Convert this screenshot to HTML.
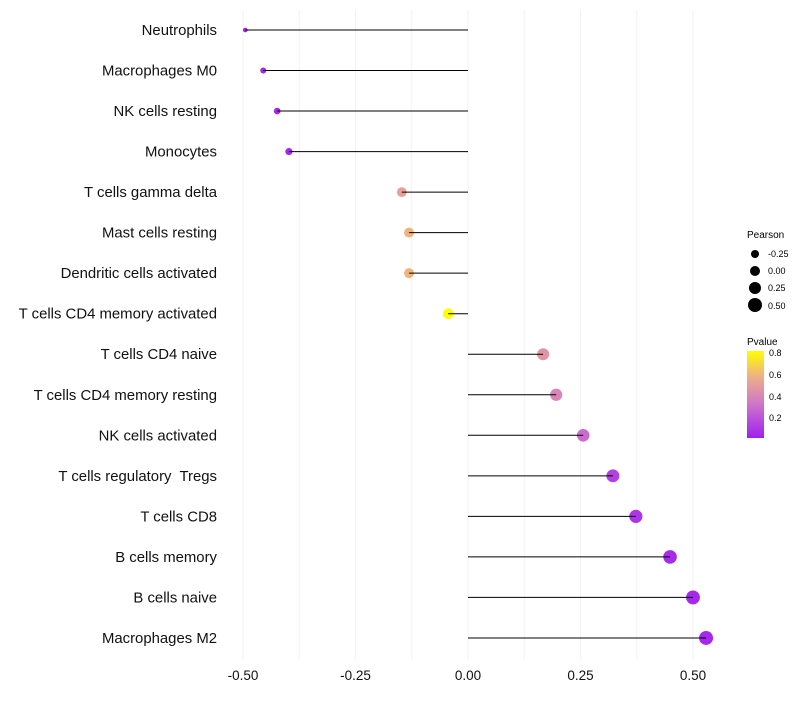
<!DOCTYPE html>
<html><head><meta charset="utf-8"><style>
body{margin:0;background:#fff;font-family:"Liberation Sans",sans-serif}
text{white-space:pre}
</style></head><body>
<svg id="chart" width="800" height="700" xmlns="http://www.w3.org/2000/svg">
<defs><linearGradient id="pg" x1="0" y1="1" x2="0" y2="0">
<stop offset="0" stop-color="#a020f0"/><stop offset="0.4" stop-color="#d077c8"/><stop offset="0.7" stop-color="#eeae88"/><stop offset="1" stop-color="#ffff00"/></linearGradient></defs>
<g id="grid"></g><g id="marks"></g><g id="labels"></g>
<g font-size="9">
<text x="747" y="238" font-size="10">Pearson</text>
<circle cx="755" cy="254" r="4"/><text x="768" y="257">-0.25</text>
<circle cx="755" cy="271" r="5"/><text x="768" y="274">0.00</text>
<circle cx="755" cy="288" r="6"/><text x="768" y="291">0.25</text>
<circle cx="755" cy="305" r="7"/><text x="768" y="309">0.50</text>
</g>
<g font-size="9">
<text x="747" y="345" font-size="10">Pvalue</text>
<rect x="747" y="351" width="17" height="87" fill="url(#pg)"/>
<text x="769" y="356">0.8</text><text x="769" y="378">0.6</text>
<text x="769" y="400">0.4</text><text x="769" y="421">0.2</text>
</g>
</svg>
<script>
const categories=["Neutrophils","Macrophages M0","NK cells resting","Monocytes","T cells gamma delta","Mast cells resting","Dendritic cells activated","T cells CD4 memory activated","T cells CD4 naive","T cells CD4 memory resting","NK cells activated","T cells regulatory  Tregs","T cells CD8","B cells memory","B cells naive","Macrophages M2"];
const pearson=[-0.495,-0.455,-0.424,-0.398,-0.147,-0.131,-0.131,-0.044,0.167,0.196,0.256,0.322,0.373,0.449,0.5,0.529];
const pvalue=[0.03,0.03,0.03,0.03,0.5,0.58,0.58,0.82,0.45,0.38,0.28,0.12,0.08,0.04,0.03,0.03];
const xTicks=[-0.5,-0.25,0,0.25,0.5];
const xTickLabels=["-0.50","-0.25","0.00","0.25","0.50"];
const NS="http://www.w3.org/2000/svg";
const xs=v=>468+v*450;
const ys=i=>30+i*40.53;
const rs=v=>2+5*Math.sqrt(Math.max(0,v+0.5)/1.03);
function mix(a,b,t){return a.map((c,i)=>Math.round(c+(b[i]-c)*t));}
function col(p){const stops=[[0,[160,32,240]],[0.32,[208,119,200]],[0.56,[238,174,136]],[0.8,[255,255,0]]];
 if(p<=0)return 'rgb(160,32,240)';if(p>=0.8)return 'rgb(255,255,0)';
 for(let i=0;i<stops.length-1;i++){if(p<=stops[i+1][0]){const t=(p-stops[i][0])/(stops[i+1][0]-stops[i][0]);return 'rgb('+mix(stops[i][1],stops[i+1][1],t).join(',')+')';}}}
function el(t,a,p){const e=document.createElementNS(NS,t);for(const k in a)e.setAttribute(k,a[k]);p.appendChild(e);return e;}
const grid=document.getElementById('grid'),marks=document.getElementById('marks'),labels=document.getElementById('labels');
for(let v=-0.5;v<=0.5001;v+=0.125){const g=el('line',{x1:xs(v),x2:xs(v),y1:10,y2:660,stroke:'#f2f2f2','stroke-width':1},grid);

}
xTicks.forEach((v,i)=>{const t=el('text',{x:xs(v),y:680,'text-anchor':'middle','font-size':13.5,fill:'#111'},labels);t.textContent=xTickLabels[i];

});
categories.forEach((c,i)=>{const y=ys(i);
const t=el('text',{x:217,y:y+5,'text-anchor':'end','font-size':14.9,fill:'#111'},labels);t.textContent=c;


const d=el('circle',{cx:xs(pearson[i]),cy:y,r:rs(pearson[i]),fill:col(pvalue[i])},marks);


const l=el('line',{x1:xs(0),x2:xs(pearson[i]),y1:y,y2:y,stroke:'#000','stroke-width':1},marks);


});
</script>
</body></html>
